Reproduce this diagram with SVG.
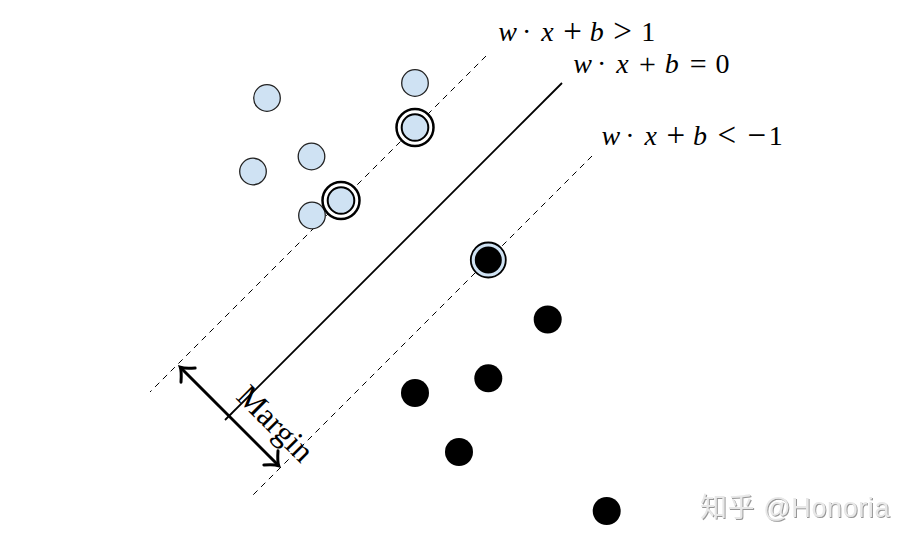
<svg xmlns="http://www.w3.org/2000/svg" width="913" height="543" viewBox="0 0 913 543">
  <defs>
    <style>
      .pos { fill: #cfe2f3; stroke: #222; stroke-width: 1.3; }
      .sv-ring { fill: #ffffff; stroke: #000; stroke-width: 2.5; }
      .sv-inner { fill: #cfe2f3; stroke: #000; stroke-width: 2; }
      .neg { fill: #000; }
      .dashed { stroke: #000; stroke-width: 1; stroke-dasharray: 6 5; fill: none; }
      .solid { stroke: #000; stroke-width: 1.8; fill: none; }
      .arrow { stroke: #000; stroke-width: 3; fill: none; }
      .math { font-family: "Liberation Serif", "DejaVu Serif", serif; font-size: 28px; fill: #000; text-anchor: middle; }
      .it { font-style: italic; }
      .op { font-size: 33px; }
      .op2 { font-size: 30px; }
      .label { font-family: "Liberation Serif", "DejaVu Serif", serif; font-size: 32px; fill: #000; text-anchor: middle; }
      .wm { font-family: "Liberation Sans", "Noto Sans CJK SC", sans-serif; font-size: 27px; letter-spacing: 0.6px; fill: #e8e8e8; }
    </style>
    <marker id="tip" viewBox="-14 -14 18 28" refX="0" refY="0" markerWidth="18" markerHeight="28" markerUnits="userSpaceOnUse" orient="auto-start-reverse">
      <path d="M -10,-10 Q -3,-2 1,0 Q -3,2 -10,10" stroke="#000" stroke-width="3" fill="none" stroke-linecap="round"/>
    </marker>
    <filter id="emboss" x="-5%" y="-20%" width="110%" height="140%">
      <feDropShadow dx="1" dy="1" stdDeviation="0.6" flood-color="#8a8a8a" flood-opacity="0.9"/>
    </filter>
  </defs>
  <rect width="913" height="543" fill="#ffffff"/>

  <g id="connectors">
    <line class="dashed" x1="486" y1="56" x2="150" y2="392"/>
    <line class="solid" x1="562" y1="83" x2="225" y2="420"/>
    <line class="dashed" x1="592" y1="156" x2="250" y2="498"/>
    <line class="arrow" x1="181" y1="368" x2="278" y2="465" marker-start="url(#tip)" marker-end="url(#tip)"/>
  </g>

  <g id="positive-points">
    <circle class="pos" cx="267" cy="98" r="13.3"/>
    <circle class="pos" cx="415" cy="83" r="13.3"/>
    <circle class="pos" cx="253" cy="171.5" r="13.3"/>
    <circle class="pos" cx="311.5" cy="156.5" r="13.3"/>
    <circle class="pos" cx="312" cy="215.5" r="13.3"/>
  </g>
  <g id="positive-support-1">
    <circle class="sv-ring" cx="415" cy="127.5" r="18.5"/>
    <circle class="sv-inner" cx="415" cy="127.5" r="13.3"/>
  </g>
  <g id="positive-support-2">
    <circle class="sv-ring" cx="341" cy="200.5" r="18.5"/>
    <circle class="sv-inner" cx="341" cy="200.5" r="13.3"/>
  </g>
  <g id="negative-support">
    <circle cx="488.3" cy="260" r="17.5" fill="#cfe2f3" stroke="#000" stroke-width="1.8"/>
    <circle class="neg" cx="488.3" cy="260" r="13.5"/>
  </g>
  <g id="negative-points">
    <circle class="neg" cx="547.7" cy="319.5" r="14"/>
    <circle class="neg" cx="488.3" cy="378.3" r="14"/>
    <circle class="neg" cx="415" cy="393" r="14"/>
    <circle class="neg" cx="459" cy="452" r="14"/>
    <circle class="neg" cx="606.7" cy="511" r="14"/>
  </g>

  <g id="label-upper">
    <text class="math" y="40.5"><tspan class="it" x="507.5">w</tspan><tspan x="526.7">·</tspan><tspan class="it" x="547.5">x</tspan><tspan class="op" x="572.5" y="41.5">+</tspan><tspan class="it" x="596.7" y="40.5">b</tspan><tspan class="op" x="622.5" y="41.5">&gt;</tspan><tspan x="648.3" y="40.5">1</tspan></text>
  </g>
  <g id="label-boundary">
    <text class="math" y="72.5"><tspan class="it" x="582.5">w</tspan><tspan x="601.7">·</tspan><tspan class="it" x="622.5">x</tspan><tspan class="op2" x="647.5" y="73.5">+</tspan><tspan class="it" x="671.7" y="72.5">b</tspan><tspan class="op2" x="698.3" y="73.5">=</tspan><tspan x="722.5" y="72.5">0</tspan></text>
  </g>
  <g id="label-lower">
    <text class="math" y="145"><tspan class="it" x="610.8">w</tspan><tspan x="630">·</tspan><tspan class="it" x="650.8">x</tspan><tspan class="op" x="675.8" y="146">+</tspan><tspan class="it" x="700" y="145">b</tspan><tspan class="op" x="726.7" y="146">&lt;</tspan><tspan class="op" x="756.7" y="146">−</tspan><tspan x="775.8" y="145">1</tspan></text>
  </g>
  <g id="label-margin">
    <text class="label" transform="translate(268,431) rotate(45)">Margin</text>
  </g>

  <g id="watermark" filter="url(#emboss)">
    <text class="wm" x="700" y="517"><tspan font-family="'Noto Sans CJK SC', sans-serif">知乎</tspan> @Honoria</text>
  </g>
</svg>
